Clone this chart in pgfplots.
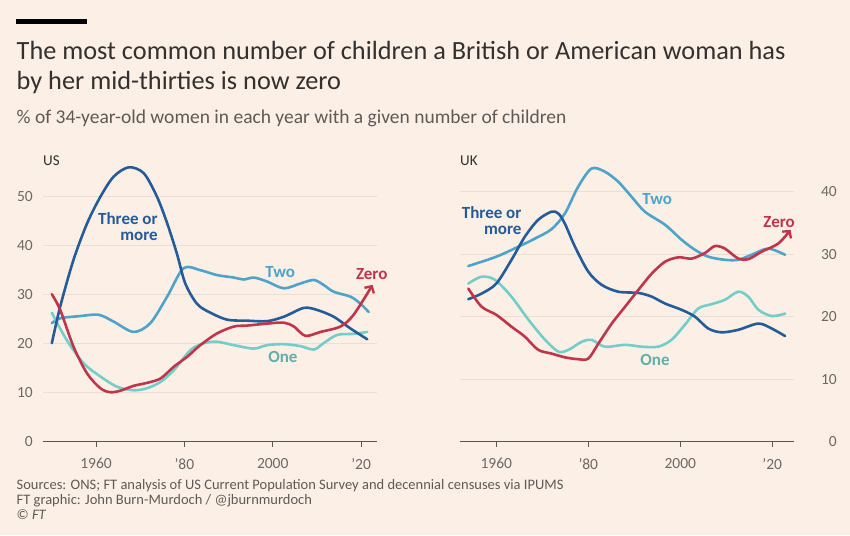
\documentclass[border=0pt]{standalone}
\usepackage{fontspec}
\setmainfont{Carlito}
\usepackage{pgfplots}
\usepackage{pgfplotstable}
\pgfplotsset{compat=1.18}
\usetikzlibrary{arrows.meta}
\definecolor{bg}{HTML}{FCF0E6}
\definecolor{threec}{HTML}{245B98}
\definecolor{twoc}{HTML}{4DA3C9}
\definecolor{onec}{HTML}{74CDC8}
\definecolor{zeroc}{HTML}{C1354B}
\definecolor{gridc}{HTML}{EBDFD4}
\definecolor{axisc}{HTML}{5A5551}
\definecolor{tickc}{HTML}{6E6763}
\definecolor{titlec}{HTML}{33302E}
\definecolor{subc}{HTML}{5F5955}

\pgfplotstableread{
year val
1950 20.1
1951.9 27.6
1954.9 37.1
1958 44.6
1961 50.0
1964 54.1
1967.4 56.0
1970.8 54.8
1973.8 50.0
1976.1 44.6
1978.3 38.4
1980.2 32.3
1982.8 28.2
1985.5 26.5
1989.7 24.9
1994.2 24.7
1998.7 24.6
2002.5 25.5
2007.0 27.3
2010.0 26.9
2013.8 25.5
2017.6 23.1
2021.4 20.9
}\usthree
\pgfplotstableread{
year val
1950.0 24.2
1952 25.2
1956 25.6
1960.6 25.9
1964 24.5
1968.5 22.4
1972.3 24.2
1976.1 29.6
1979.8 35.4
1983.6 35.0
1987.4 34.0
1991.2 33.5
1993.4 33.1
1995.7 33.5
1998.7 32.7
2002.5 31.3
2006.3 32.3
2009.3 33.0
2011.5 32.0
2013.8 30.6
2017.6 29.6
2019.8 28.2
2021.7 26.5
}\ustwo
\pgfplotstableread{
year val
1950 26.3
1953.4 20.7
1957.2 16.0
1961.0 13.3
1964.8 11.2
1968.5 10.5
1971.5 10.9
1974.6 12.2
1977.6 14.6
1981.4 18.7
1984.4 20.1
1987.4 20.4
1991.2 19.7
1995.7 19.0
1998.7 19.7
2002.5 19.9
2006.3 19.5
2009.3 18.8
2011.5 20.1
2014.6 21.8
2018.3 22.0
2021.4 22.4
}\usone
\pgfplotstableread{
year val
1950 30.1
1951.9 26.9
1954.9 19.4
1958.0 13.9
1961.0 10.9
1963.2 10.1
1965.5 10.4
1968.5 11.4
1971.5 12.0
1974.6 12.9
1977.6 15.3
1980.6 17.3
1983.6 19.7
1987.4 22.1
1991.2 23.5
1994.2 23.7
1998.7 24.1
2002.5 24.3
2004.8 23.5
2007.4 21.6
2010.8 22.4
2015.3 23.5
2018.3 25.9
2022.6 32.0
}\uszero
\pgfplotstableread{
year val
1953.9 22.8
1956.8 23.7
1960 25.3
1963.3 29.1
1966.2 32.8
1969.1 35.5
1972.0 36.8
1973.5 36.5
1974.9 34.9
1977.1 31.2
1980 27.2
1982.9 25.1
1986.5 24.0
1990.9 23.8
1993.8 23.2
1996.7 22.1
2000.3 21.1
2003.2 20.0
2006.1 18.1
2009 17.5
2012.6 17.9
2017 18.9
2019.9 18.1
2022.8 16.9
}\ukthree
\pgfplotstableread{
year val
1953.9 28.1
1960 29.6
1964.8 31.2
1968.4 32.5
1972 34.0
1974.9 36.5
1977.8 40.8
1980.7 43.7
1983.6 43.2
1986.5 41.6
1989.4 39.2
1992.3 36.8
1996.7 34.7
2000.3 32.3
2003.2 30.7
2006.1 29.6
2009.7 29.1
2012.6 29.1
2015.5 29.9
2019.1 30.9
2022.8 29.9
}\uktwo
\pgfplotstableread{
year val
1953.9 25.3
1956.8 26.4
1959.7 25.9
1963.3 23.2
1967 19.5
1970.6 16.3
1973.5 14.4
1975.7 14.7
1978.6 16.0
1980.7 16.3
1983.6 15.2
1988 15.5
1991.6 15.2
1995.2 15.2
1998.1 16.3
2001 18.7
2003.9 21.3
2006.8 22.0
2009.7 22.7
2012.6 24.0
2014.8 23.2
2017 21.1
2019.9 20.1
2022.8 20.5
}\ukone
\pgfplotstableread{
year val
1953.9 24.5
1956.8 21.6
1960 20.3
1963.3 18.4
1966.2 16.8
1969.1 14.7
1972 14.1
1974.9 13.5
1977.8 13.2
1980 13.3
1982.2 15.7
1985.1 18.9
1988 21.6
1990.9 24.3
1993.8 26.9
1996.7 28.8
1999.6 29.5
2002.5 29.3
2005.4 30.2
2007.5 31.3
2009.7 30.9
2012.6 29.3
2014.8 29.2
2017.7 30.4
2021.3 31.7
2024 33.9
}\ukzero

\tikzset{lab/.style={font=\fontsize{17}{17}\selectfont\bfseries}}
\pgfplotsset{
  ftaxis/.style={
    scale only axis,
    clip=false,
    axis x line*=bottom,
    axis y line*=left,
    x axis line style={-, draw=axisc, line width=1pt},
    y axis line style={draw=none},
    ymin=0,
    xtick={1960,1980,2000,2020},
    xticklabels={1960,'80,2000,'20},
    tick align=outside,
    major tick length=5pt,
    xtick style={draw=axisc, line width=1pt},
    ytick style={draw=none},
    ymajorgrids,
    grid style={gridc, line width=1pt},
    tick label style={font=\fontsize{15.5}{15.5}\selectfont, text=tickc},
    xticklabel style={anchor=north, inner sep=0pt, yshift=-11.5pt},
    /pgf/number format/assume math mode=true,
    every axis plot/.append style={line width=2.6pt, smooth, tension=0.5, no markers, line cap=round, line join=round},
  },
}

\begin{document}
\begin{tikzpicture}
\fill[bg] (0pt,0pt) rectangle (850pt,535pt);
\fill[black] (16pt,510.7pt) rectangle (87pt,515.7pt);
\node[anchor=base west, inner sep=0pt, text=titlec, font=\fontsize{26.3}{26.3}\selectfont] at (16.5pt,475.7pt) {The most common number of children a British or American woman has};
\node[anchor=base west, inner sep=0pt, text=titlec, font=\fontsize{26.3}{26.3}\selectfont] at (16.5pt,445pt) {by her mid-thirties is now zero};
\node[anchor=base west, inner sep=0pt, text=subc, font=\fontsize{19.5}{19.5}\selectfont] at (16.5pt,411pt) {\% of 34-year-old women in each year with a given number of children};
\node[anchor=base west, inner sep=0pt, text=titlec, font=\fontsize{15}{15}\selectfont] at (43pt,369pt) {US};
\node[anchor=base west, inner sep=0pt, text=titlec, font=\fontsize{15}{15}\selectfont] at (460pt,369pt) {UK};
\node[anchor=base west, inner sep=0pt, text=subc, font=\fontsize{14.5}{14.5}\selectfont] at (16.5pt,46pt) {Sources: ONS; FT analysis of US Current Population Survey and decennial censuses via IPUMS};
\node[anchor=base west, inner sep=0pt, text=subc, font=\fontsize{14.5}{14.5}\selectfont] at (16.5pt,31pt) {FT graphic: John Burn-Murdoch / @jburnmurdoch};
\node[anchor=base west, inner sep=0pt, text=subc, font=\fontsize{14.5}{14.5}\selectfont] at (16.5pt,16pt) {© \textit{FT}};

% US
\begin{axis}[ftaxis,
  at={(43pt,93.3pt)}, anchor=south west,
  width=334pt, height=284.2pt,
  xmin=1948, xmax=2023.6, ymax=58,
  ytick={0,10,20,30,40,50},
  yticklabel style={anchor=east, inner sep=0pt, xshift=-5pt},
]
\addplot[twoc] table[x=year,y=val] {\ustwo};
\addplot[onec] table[x=year,y=val] {\usone};
\addplot[threec] table[x=year,y=val] {\usthree};
\addplot[zeroc, -{Straight Barb[length=5pt,width=11pt,line width=2.4pt]}] table[x=year,y=val] {\uszero};
\node[lab, text=threec, anchor=east, align=right, inner sep=0pt] at (axis cs:1974.0,43.9) {Three or\\[-1pt]more};
\node[lab, text=twoc] at (axis cs:2001.7,34.6) {Two};
\node[lab, text=zeroc] at (axis cs:2022.4,34.2) {Zero};
\node[lab, text=onec!85!black] at (axis cs:2002.3,17.3) {One};
\end{axis}

% UK
\begin{axis}[ftaxis,
  at={(460pt,93.3pt)}, anchor=south west,
  width=334.3pt, height=281.25pt,
  xmin=1952.1, xmax=2024.8, ymax=45,
  axis y line*=right,
  ytick={0,10,20,30,40},
  yticklabel style={anchor=east, inner sep=0pt, xshift=37.7pt},
]
\addplot[twoc] table[x=year,y=val] {\uktwo};
\addplot[onec] table[x=year,y=val] {\ukone};
\addplot[threec] table[x=year,y=val] {\ukthree};
\addplot[zeroc, -{Straight Barb[length=5pt,width=11pt,line width=2.4pt]}] table[x=year,y=val] {\ukzero};
\node[lab, text=threec, anchor=east, align=right, inner sep=0pt] at (axis cs:1965.5,35.4) {Three or\\[-1pt]more};
\node[lab, text=twoc] at (axis cs:1995.0,38.9) {Two};
\node[lab, text=zeroc] at (axis cs:2021.5,35.1) {Zero};
\node[lab, text=onec!85!black] at (axis cs:1994.5,13.1) {One};
\end{axis}
\end{tikzpicture}
\end{document}
